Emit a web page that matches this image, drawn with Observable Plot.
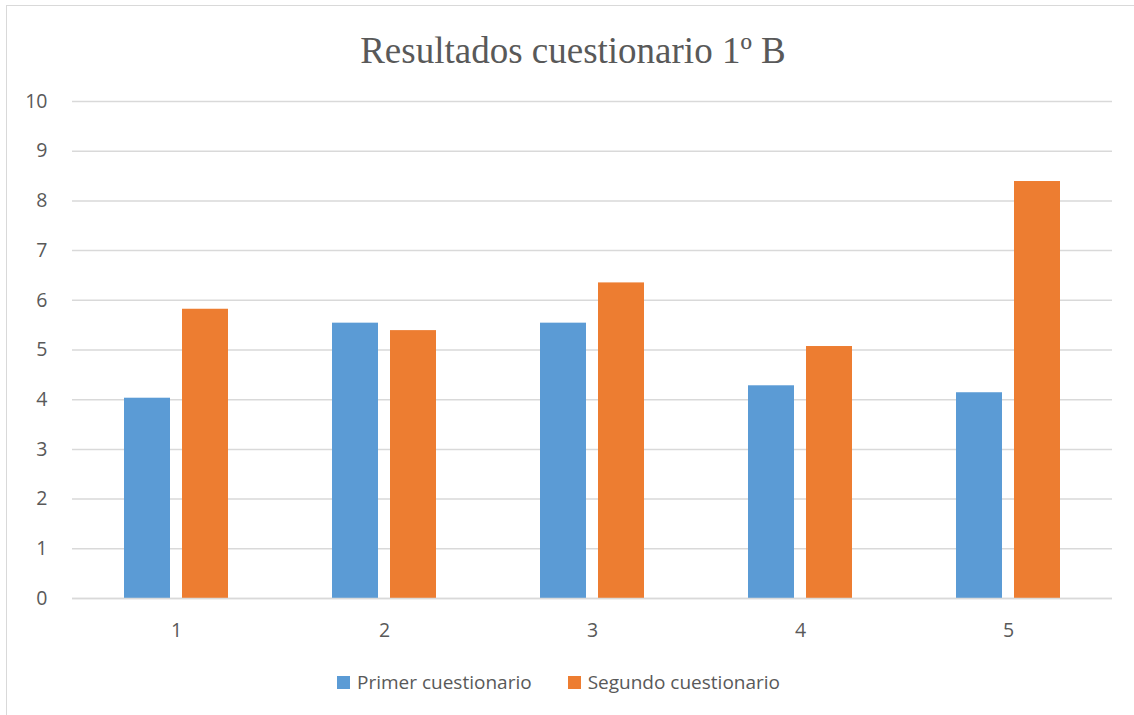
<!DOCTYPE html>
<html>
<head>
<meta charset="utf-8">
<script src="https://cdn.jsdelivr.net/npm/d3@7"></script>
<script src="https://cdn.jsdelivr.net/npm/@observablehq/plot@0.6"></script>
<style>
  html, body { margin: 0; padding: 0; background: #fff; }
  #wrap { position: relative; width: 1134px; height: 715px; overflow: hidden; }
  #frame { position: absolute; left: 6px; top: 5px; width: 1140px; height: 730px; border: 1.5px solid #d9d9d9; box-sizing: border-box; pointer-events: none; }
  #title { box-sizing: border-box; height: 78px; padding-top: 31px; text-align: center; font-family: "Liberation Serif", "Times New Roman", serif; font-size: 37px; line-height: 40px; color: #595959; padding-left: 12px; }
  #chart svg { display: block; overflow: visible; }
  #legend { position: absolute; left: 337px; top: 670px; display: flex; align-items: center; font-family: "Open Sans", sans-serif; font-size: 19px; line-height: 24px; color: #595959; }
  .sw { width: 13px; height: 13px; display: inline-block; margin-right: 7px; }
  .item { display: flex; align-items: center; margin-right: 36px; }
</style>
</head>
<body>
<div id="wrap">
  <div id="frame"></div>
  <div id="title">Resultados cuestionario 1º B</div>
  <div id="chart"></div>
  <div id="legend"></div>
</div>
<script>
const groups = ["1", "2", "3", "4", "5"];
const series = ["Primer cuestionario", "Segundo cuestionario"];
const primer = [4.03, 5.54, 5.54, 4.28, 4.14];
const segundo = [5.82, 5.39, 6.35, 5.07, 8.39];
const colors = ["#5b9bd5", "#ed7d31"];
const yTicks = [0, 1, 2, 3, 4, 5, 6, 7, 8, 9, 10];

const data = [];
groups.forEach((g, i) => {
  data.push({group: g, series: series[0], value: primer[i]});
  data.push({group: g, series: series[1], value: segundo[i]});
});

const plot = Plot.plot({
  width: 1134,
  height: 590,
  marginTop: 23,
  marginBottom: 70,
  marginLeft: 72,
  marginRight: 22,
  style: {fontFamily: "'Open Sans', sans-serif", fontSize: "19.5px", color: "#595959", background: "transparent"},
  fx: {domain: groups, padding: 0, label: null, axis: "bottom", tickSize: 0, tickPadding: 25},
  x: {domain: series, paddingInner: 0.205, paddingOuter: 0.88, axis: null},
  y: {domain: [0, 10], ticks: yTicks, label: null, tickSize: 0, tickPadding: 25},
  color: {domain: series, range: colors},
  marks: [
    Plot.gridY(yTicks, {stroke: "#d9d9d9", strokeOpacity: 1, strokeWidth: 1.5}),
    Plot.axisY({ticks: yTicks, tickSize: 0, tickPadding: 25, label: null}),
    Plot.barY(data, {fx: "group", x: "series", y: "value", fill: "series"}),
    Plot.ruleY([0], {stroke: "#d9d9d9", strokeWidth: 1.5})
  ]
});
document.getElementById("chart").appendChild(plot);

const legend = document.getElementById("legend");
series.forEach((s, i) => {
  const item = document.createElement("span");
  item.className = "item";
  const sw = document.createElement("span");
  sw.className = "sw";
  sw.style.background = colors[i];
  item.appendChild(sw);
  item.appendChild(document.createTextNode(s));
  legend.appendChild(item);
});
</script>
</body>
</html>
